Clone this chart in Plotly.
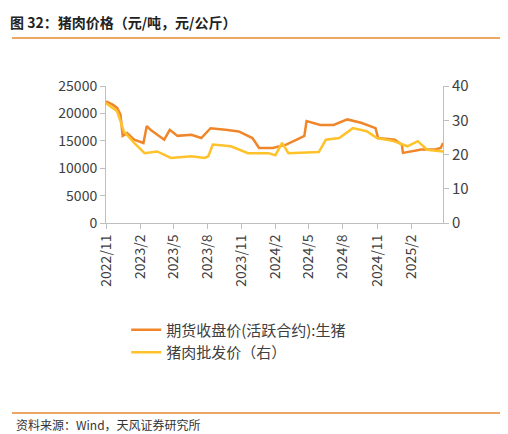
import plotly.graph_objects as go

fut_dates = ["2022-11-01", "2022-11-19", "2022-12-01", "2022-12-10", "2022-12-16", "2022-12-28",
             "2023-01-16", "2023-02-10", "2023-02-19", "2023-03-01", "2023-04-07", "2023-04-22",
             "2023-05-13", "2023-06-19", "2023-07-16", "2023-08-10", "2023-09-19", "2023-10-25",
             "2023-12-01", "2023-12-19", "2024-01-25", "2024-03-01", "2024-04-07", "2024-04-19",
             "2024-04-25", "2024-06-01", "2024-07-07", "2024-08-13", "2024-09-19", "2024-10-28",
             "2024-11-04", "2024-12-19", "2025-01-07", "2025-01-10", "2025-03-01", "2025-04-07",
             "2025-04-22", "2025-04-28"]
fut_vals = [22200, 21600, 21000, 19800, 15900, 16400, 15200, 14600, 17700, 17000, 15200, 17000,
            15900, 16100, 15500, 17300, 17000, 16700, 15500, 13700, 13700, 14300, 15500, 15900,
            18600, 17900, 17900, 18900, 18300, 17300, 15500, 15200, 14300, 12800, 13400, 13400,
            13700, 14600]

whl_dates = ["2022-11-01", "2022-12-01", "2022-12-19", "2023-01-16", "2023-02-13", "2023-03-19",
             "2023-04-25", "2023-06-19", "2023-07-25", "2023-08-04", "2023-08-16", "2023-10-04",
             "2023-11-19", "2024-01-13", "2024-02-01", "2024-02-19", "2024-03-07", "2024-05-28",
             "2024-06-16", "2024-07-22", "2024-08-28", "2024-10-04", "2024-11-01", "2024-12-16",
             "2025-01-22", "2025-02-19", "2025-03-16", "2025-04-28"]
whl_vals = [35.0, 32.6, 26.8, 23.4, 20.4, 20.9, 19.0, 19.5, 19.0, 19.5, 22.9, 22.4,
            20.4, 20.4, 19.8, 23.4, 20.4, 20.7, 24.3, 24.8, 27.7, 26.8, 24.8, 23.9,
            22.4, 23.9, 21.4, 20.9]

orange = "#F0862A"
yellow = "#FFC22A"
grey = "#BFBFBF"
font = "Noto Sans CJK SC"

fig = go.Figure()
fig.add_trace(go.Scatter(x=fut_dates, y=fut_vals, mode="lines", name="期货收盘价(活跃合约):生猪",
                         line=dict(color=orange, width=2.5)))
fig.add_trace(go.Scatter(x=whl_dates, y=whl_vals, mode="lines", name="猪肉批发价（右）",
                         line=dict(color=yellow, width=2.5), yaxis="y2"))

fig.update_layout(
    width=508, height=434,
    paper_bgcolor="white", plot_bgcolor="white",
    margin=dict(l=98, r=73, t=78, b=219, autoexpand=False),
    font=dict(family=font, size=14, color="#404040"),
    showlegend=True,
    legend=dict(x=0.06, y=-0.66, xanchor="left", yanchor="top", font=dict(size=15),
                bgcolor="rgba(0,0,0,0)", tracegroupgap=6),
    xaxis=dict(range=["2022-11-01", "2025-04-28"], tickformat="%Y/%-m", dtick="M3",
               tick0="2022-11-01", tickangle=-90, showgrid=False, showline=True,
               linecolor=grey, ticks="outside", tickcolor=grey, ticklen=5, automargin=False),
    yaxis=dict(range=[0, 25000], dtick=5000, showgrid=False, showline=True, linecolor=grey,
               ticks="outside", tickcolor=grey, ticklen=5, tickformat="d", automargin=False),
    yaxis2=dict(range=[0, 40], dtick=10, overlaying="y", side="right", showgrid=False,
                showline=True, linecolor=grey, ticks="outside", tickcolor=grey, ticklen=5,
                automargin=False, tickfont=dict(size=15)),
)

fig.add_annotation(text="<b>图 32：猪肉价格（元/吨，元/公斤）</b>", xref="paper", yref="paper",
                   x=-98 / 337, y=1 + 64 / 137, xanchor="left", yanchor="middle",
                   showarrow=False, font=dict(size=14, color="#222222"))
fig.add_annotation(text="资料来源：Wind，天风证券研究所", xref="paper", yref="paper",
                   x=-92 / 337, y=-202 / 137, xanchor="left", yanchor="middle",
                   showarrow=False, font=dict(size=12, color="#333333"))
fig.add_shape(type="line", xref="paper", yref="paper", x0=-94 / 337, x1=1 + 65 / 337,
              y0=1 + 48 / 137, y1=1 + 48 / 137, line=dict(color="#E98A2E", width=1.5))
fig.add_shape(type="line", xref="paper", yref="paper", x0=-94 / 337, x1=1 + 65 / 337,
              y0=-190 / 137, y1=-190 / 137, line=dict(color="#E98A2E", width=1.5))

fig.write_html("out.html")
